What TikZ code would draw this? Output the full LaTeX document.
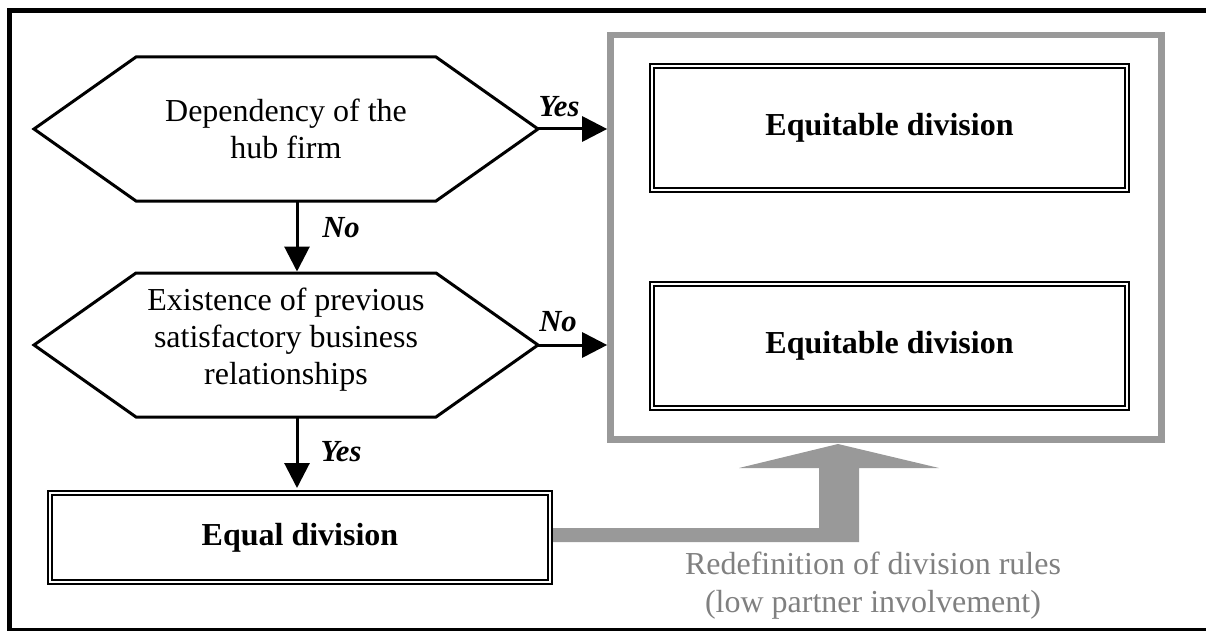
\documentclass[tikz,border=0pt]{standalone}
\usepackage{fontspec}
\setmainfont{Liberation Serif}
\usetikzlibrary{arrows.meta,calc}
\definecolor{boxgray}{RGB}{153,153,153}
\definecolor{txtgray}{RGB}{128,128,128}
\tikzset{
 hexnode/.style={inner sep=0pt, outer sep=0pt, minimum width=378pt, minimum height=108pt, font=\fontsize{24}{27.75}\selectfont, align=center},
 hexline/.style={line width=2.25pt, line join=miter},
 maintext/.style={font=\fontsize{24}{27.75}\selectfont, align=center, inner sep=0pt},
 resultbox/.style={draw, double, line width=1.5pt, double distance=1.5pt, outer sep=2.25pt, minimum width=356.25pt, font=\fontsize{24}{27.75}\selectfont\bfseries, align=center},
 flowarrow/.style={line width=2.25pt, -{Triangle[length=18.75pt,width=18.75pt]}},
 answer/.style={font=\fontsize{23}{27}\selectfont\bfseries\itshape, inner sep=0pt},
 groupbox/.style={draw=boxgray, line width=5pt, minimum width=413.25pt, minimum height=303.4pt, inner sep=0pt},
 frameline/.style={line width=3.75pt},
 fatarrow/.style={fill=boxgray},
 graytext/.style={text=txtgray, font=\fontsize{24}{28.5}\selectfont, align=center, inner sep=0pt},
}
\begin{document}
\begin{tikzpicture}[x=0.75pt, y=-0.75pt]
\useasboundingbox (0,0) rectangle (1206,631);
% outer frame
\draw[frameline] (1230,630) -- (9.5,630) -- (9.5,11) -- (1230,11);
% group box
\node[groupbox] (grp) at (886,237.25) {};
% result boxes
\node[resultbox, minimum height=93pt] (eqt1) at (889.5,128) {Equitable division};
\node[resultbox, minimum height=93pt] (eqt2) at (889.5,345.5) {Equitable division};
\node[resultbox, minimum width=375pt, minimum height=66.75pt] (eq) at (300,537.5) {Equal division};
% hexagons
\node[hexnode] (hexA) at (286,129) {Dependency of the\\hub firm};
\draw[hexline] (hexA.west) -- ($(hexA.north west)+(102,0)$) -- ($(hexA.north east)+(-102,0)$) -- (hexA.east) -- ($(hexA.south east)+(-102,0)$) -- ($(hexA.south west)+(102,0)$) -- cycle;
\node[hexnode] (hexB) at (286,345) {};
\draw[hexline] (hexB.west) -- ($(hexB.north west)+(102,0)$) -- ($(hexB.north east)+(-102,0)$) -- (hexB.east) -- ($(hexB.south east)+(-102,0)$) -- ($(hexB.south west)+(102,0)$) -- cycle;
\node[maintext] (hexBtxt) at (286,340) {Existence of previous\\satisfactory business\\relationships};
% flow arrows
\draw[flowarrow] (hexA.east) -- (grp.west |- hexA.east);
\draw[flowarrow] (hexB.east) -- (grp.west |- hexB.east);
\coordinate (s1) at ($(hexA.south)+(11,0)$);
\draw[flowarrow] (s1) -- ($(s1 |- hexB.north)+(0,-1.5)$);
\coordinate (s2) at ($(hexB.south)+(11,0)$);
\draw[flowarrow] (s2) -- ($(s2 |- eq.north)+(0,-2)$);
% answer labels
\node[answer] (yes1) at (559,107) {Yes};
\node[answer] (no1) at (341,228) {No};
\node[answer] (no2) at (558,322) {No};
\node[answer] (yes2) at (341,452) {Yes};
% fat gray arrow
\fill[fatarrow] (eq.east |- 0,528) -- (819,528) -- (819,468) -- (739,468) -- (838,444) -- (939,468) -- (859,468) -- (859,542) -- (eq.east |- 0,542) -- cycle;
\node[graytext] (redef) at (873,586) {Redefinition of division rules\\(low partner involvement)};
\end{tikzpicture}
\end{document}
